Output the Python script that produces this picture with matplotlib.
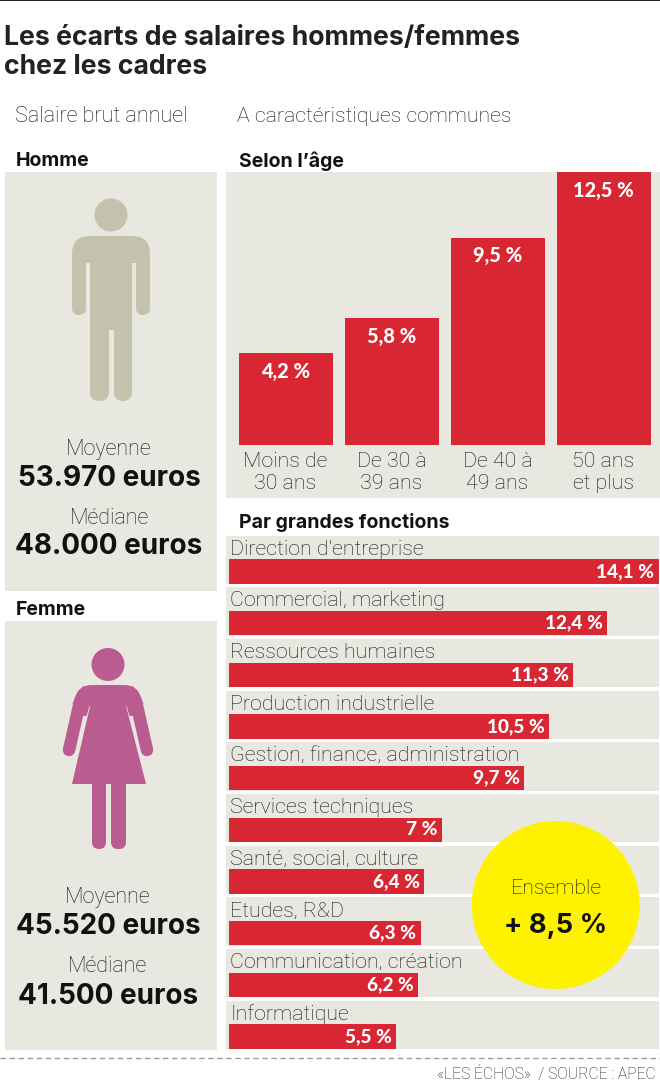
import matplotlib
matplotlib.use("Agg")
import matplotlib.pyplot as plt
from matplotlib.patches import Rectangle, Circle, FancyBboxPatch, Polygon

W, H = 660, 1084
PANEL = "#E9E8E0"; RED = "#D82732"; INK = "#111111"
MAN = "#C3C2AC"; WOMAN = "#BB5C91"; YELLOW = "#FFF200"
BOLD = "Inter"; LIGHT = "Roboto"; PCT = "Lato"

age_groups = ["Moins de\n30 ans", "De 30 à\n39 ans", "De 40 à\n49 ans", "50 ans\net plus"]
age_gap = [4.2, 5.8, 9.5, 12.5]
functions = ["Direction d'entreprise", "Commercial, marketing", "Ressources humaines",
             "Production industrielle", "Gestion, finance, administration", "Services techniques",
             "Santé, social, culture", "Etudes, R&D", "Communication, création", "Informatique"]
function_gap = [14.1, 12.4, 11.3, 10.5, 9.7, 7, 6.4, 6.3, 6.2, 5.5]

def pct(v):
    return f"{v:g}".replace(".", ",") + " %"

fig = plt.figure(figsize=(W / 100, H / 100), dpi=100, facecolor="white")
base = fig.add_axes([0, 0, 1, 1], zorder=1)
base.set_xlim(0, W); base.set_ylim(H, 0); base.axis("off")

def axes_px(x0, y0, x1, y1, z):
    a = fig.add_axes([x0 / W, 1 - y1 / H, (x1 - x0) / W, (y1 - y0) / H], zorder=z)
    a.axis("off"); a.patch.set_alpha(0)
    return a

def rect(x0, y0, x1, y1, c=PANEL, z=1):
    base.add_patch(Rectangle((x0, y0), x1 - x0, y1 - y0, fc=c, ec="none", zorder=z))

def rbox(x0, y0, x1, y1, r, c, z=3):
    base.add_patch(FancyBboxPatch((x0 + r, y0 + r), x1 - x0 - 2 * r, y1 - y0 - 2 * r,
                                  boxstyle=f"round,pad={r},rounding_size={r}", fc=c, ec="none", zorder=z))

def txt(x, y, s, size, bold=False, ha="left", c=INK, z=6, **k):
    base.text(x, y, s, fontsize=size, family=BOLD if bold else LIGHT,
              weight="bold" if bold else "light", ha=ha, va="center", color=c, zorder=z, **k)

# top rule and footer
rect(0, 0, W, 1, "#222222")
base.plot([0, W], [1058, 1058], color="#9A9A9A", lw=1, ls=(0, (4, 2.5)))
txt(656, 1074, "«LES ÉCHOS»  / SOURCE : APEC", 11.3, ha="right", c="#222222")

# titles
txt(4, 37.5, "Les écarts de salaires hommes/femmes", 19.2, True, c="#222222")
txt(4, 67.5, "chez les cadres", 19.2, True, c="#222222")
txt(15, 117, "Salaire brut annuel", 15.6)
txt(237, 117, "A caractéristiques communes", 15.35)
txt(16, 161.5, "Homme", 14, True)
txt(239, 161.5, "Selon l’âge", 14, True)
txt(16, 610, "Femme", 14, True)
txt(239, 522, "Par grandes fonctions", 14, True)

# panels
rect(5, 172, 217, 591)
rect(5, 621, 217, 1050)
rect(226, 172, 660, 498)

# man pictogram
base.add_patch(Circle((111, 215), 16.5, fc=MAN, ec="none", zorder=3))
rbox(72, 236, 150, 290, 18, MAN)
rbox(72, 260, 86, 315, 7, MAN)
rbox(136, 260, 150, 315, 7, MAN)
rect(86, 263, 90, 320, PANEL, 3.5)
rect(132, 263, 136, 320, PANEL, 3.5)
rect(90, 250, 132, 330, MAN, 4)
rbox(90, 300, 109, 401, 9, MAN, 4)
rbox(114, 300, 132, 401, 9, MAN, 4)
rect(109, 315, 114, 401, PANEL, 3.8)

# woman pictogram
base.add_patch(Circle((108, 664.5), 16.5, fc=WOMAN, ec="none", zorder=3))
left_side = [(90, 685), (83, 686.5), (78, 691), (75, 697), (72.5, 704), (84, 716)]
base.add_patch(Polygon(left_side + [(216 - x, y) for x, y in reversed(left_side)], fc=WOMAN, ec="none", zorder=3))
for hand_x, top_x in [(69, 79), (147, 137)]:
    base.plot([top_x, hand_x], [706, 750], color=WOMAN, lw=9.0, solid_capstyle="round", zorder=3)
base.plot([90, 78], [707, 750], color=PANEL, lw=1.3, zorder=3.5)
base.plot([126, 138], [707, 750], color=PANEL, lw=1.3, zorder=3.5)
base.add_patch(Polygon([(91.5, 700), (124.5, 700), (146, 784), (72, 784)], fc=WOMAN, ec="none", zorder=4))
rbox(92, 770, 106, 849, 7, WOMAN, 4)
rbox(111, 770, 126, 849, 7, WOMAN, 4)

# salaries
for y, s, b in [(448, "Moyenne", False), (477, "53.970 euros", True), (518, "Médiane", False), (546, "48.000 euros", True),
                (897, "Moyenne", False), (926, "45.520 euros", True), (966, "Médiane", False), (995, "41.500 euros", True)]:
    x = 109 if y < 600 else 108
    txt(x, y + 1, s, 20.1 if b else 15.5, b, ha="center")

# age bars
ax1 = axes_px(226, 172, 660, 445, 2)
ax1.set_xlim((226 - 285.5) / 106, (660 - 285.5) / 106)
ax1.set_ylim(0, 12.5)
ax1.bar(range(len(age_gap)), age_gap, width=94 / 106, color=RED)
for i, (v, lab) in enumerate(zip(age_gap, age_groups)):
    ax1.annotate(pct(v), (i, v), xytext=(0, -13), textcoords="offset points", ha="center", va="center",
                 color="white", fontsize=14.4, family=PCT, weight="black")
    ax1.annotate(lab, (i, 0), xytext=(0, -5), textcoords="offset points", ha="center", va="top",
                 color=INK, fontsize=15.4, family=LIGHT, weight="light", linespacing=1.2, annotation_clip=False)

# function bars and bands
for i in range(len(functions)):
    rect(226, 535.7 + 51.68 * i, 659, 584 + 51.68 * i)
ax2 = axes_px(226, 545.5, 660, 1062.3, 2)
ax2.set_xlim(-2.5 / 30.5, (660 - 228.5) / 30.5)
ax2.set_ylim(len(functions) - 0.5, -0.5)
ax2.barh(range(len(function_gap)), function_gap, height=24.4 / 51.68, color=RED)
for i, (v, lab) in enumerate(zip(function_gap, functions)):
    ax2.annotate(pct(v), (v, i), xytext=(-3, 0), textcoords="offset points", ha="right", va="center",
                 color="white", fontsize=13.7, family=PCT, weight="black")
    ax2.annotate(lab, (0, i), xytext=(1.2, 16), textcoords="offset points", ha="left", va="center",
                 color=INK, fontsize=15.4, family=LIGHT, weight="light")

# overall bubble
base.add_patch(Circle((555.7, 905), 84, fc=YELLOW, ec="none", zorder=5))
txt(556, 888, "Ensemble", 15.4, ha="center")
txt(556, 926, "+ 8,5 %", 19.6, True, ha="center")

fig.savefig("out.png", dpi=100)
